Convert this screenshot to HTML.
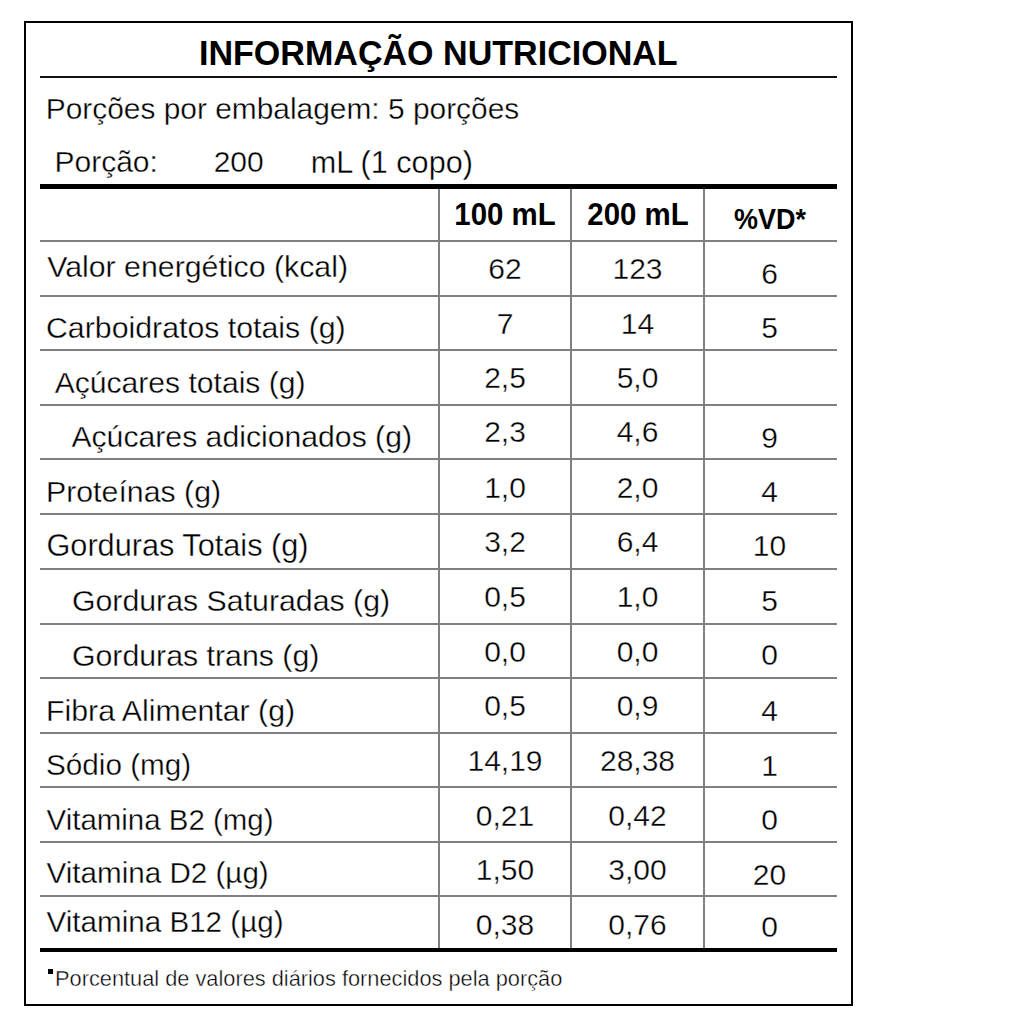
<!DOCTYPE html>
<html><head><meta charset="utf-8"><style>
html,body{margin:0;padding:0;background:#fff;width:1024px;height:1024px;overflow:hidden}
.t{position:absolute;font-family:"Liberation Sans",sans-serif;line-height:1;white-space:pre;color:#000;-webkit-text-stroke:0.35px #fff}
.c{text-align:center}
.b{-webkit-text-stroke:0}
.r{position:absolute;box-sizing:content-box}
</style></head><body>
<div class="r" style="left:24px;top:21px;width:825px;height:981px;border:2px solid #000"></div>
<div class="r" style="left:40px;top:76px;width:797px;height:2px;background:#111"></div>
<div class="r" style="left:40px;top:184px;width:797px;height:5px;background:#000"></div>
<div class="r" style="left:40px;top:948px;width:797px;height:4px;background:#000"></div>
<div class="r" style="left:437.5px;top:189px;width:2.0px;height:759px;background:#808080"></div>
<div class="r" style="left:570px;top:189px;width:2px;height:759px;background:#808080"></div>
<div class="r" style="left:703px;top:189px;width:2px;height:759px;background:#808080"></div>
<div class="r" style="left:40px;top:240px;width:797px;height:2px;background:#808080"></div>
<div class="r" style="left:40px;top:294.7px;width:797px;height:2.0px;background:#808080"></div>
<div class="r" style="left:40px;top:349.3px;width:797px;height:2.0px;background:#808080"></div>
<div class="r" style="left:40px;top:404px;width:797px;height:2px;background:#808080"></div>
<div class="r" style="left:40px;top:458.4px;width:797px;height:2.0px;background:#808080"></div>
<div class="r" style="left:40px;top:513.1px;width:797px;height:2.0px;background:#808080"></div>
<div class="r" style="left:40px;top:568px;width:797px;height:2px;background:#808080"></div>
<div class="r" style="left:40px;top:622.8px;width:797px;height:2.0px;background:#808080"></div>
<div class="r" style="left:40px;top:677.2px;width:797px;height:2.0px;background:#808080"></div>
<div class="r" style="left:40px;top:732px;width:797px;height:2px;background:#808080"></div>
<div class="r" style="left:40px;top:786.4px;width:797px;height:2.0px;background:#808080"></div>
<div class="r" style="left:40px;top:841.2px;width:797px;height:2.0px;background:#808080"></div>
<div class="r" style="left:40px;top:895.4px;width:797px;height:2.0px;background:#808080"></div>
<div class="t b" style="left:199.21px;top:35.70px;font-size:34.6px;font-weight:bold;transform-origin:0 0;transform:scaleX(0.985)">INFORMAÇÃO NUTRICIONAL</div>
<div class="t" style="left:45.71px;top:94.38px;font-size:29.9px;font-weight:normal;">Porções por embalagem: 5 porções</div>
<div class="t" style="left:54.50px;top:147.10px;font-size:30.0px;font-weight:normal;">Porção:</div>
<div class="t" style="left:213.70px;top:147.10px;font-size:30.0px;font-weight:normal;">200</div>
<div class="t" style="left:310.76px;top:146.59px;font-size:30.6px;font-weight:normal;">mL (1 copo)</div>
<div class="t c b" style="left:355.00px;top:199.18px;width:300px;font-size:30.5px;font-weight:bold;transform:scaleX(0.965)">100 mL</div>
<div class="t c b" style="left:487.50px;top:199.18px;width:300px;font-size:30.5px;font-weight:bold;transform:scaleX(0.965)">200 mL</div>
<div class="t c b" style="left:619.50px;top:204.37px;width:300px;font-size:29.8px;font-weight:bold;transform:scaleX(0.905)">%VD*</div>
<div class="t" style="left:47.20px;top:251.54px;font-size:30.3px;font-weight:normal;">Valor energético (kcal)</div>
<div class="t c" style="left:355.00px;top:254.20px;width:300px;font-size:30.0px;font-weight:normal;">62</div>
<div class="t c" style="left:487.50px;top:254.20px;width:300px;font-size:30.0px;font-weight:normal;">123</div>
<div class="t c" style="left:619.50px;top:258.60px;width:300px;font-size:30.0px;font-weight:normal;">6</div>
<div class="t" style="left:45.98px;top:312.74px;font-size:30.3px;font-weight:normal;">Carboidratos totais (g)</div>
<div class="t c" style="left:355.00px;top:308.60px;width:300px;font-size:30.0px;font-weight:normal;">7</div>
<div class="t c" style="left:487.50px;top:308.60px;width:300px;font-size:30.0px;font-weight:normal;">14</div>
<div class="t c" style="left:619.50px;top:313.40px;width:300px;font-size:30.0px;font-weight:normal;">5</div>
<div class="t" style="left:54.70px;top:367.91px;font-size:30.1px;font-weight:normal;">Açúcares totais (g)</div>
<div class="t c" style="left:355.00px;top:363.00px;width:300px;font-size:30.0px;font-weight:normal;">2,5</div>
<div class="t c" style="left:487.50px;top:363.00px;width:300px;font-size:30.0px;font-weight:normal;">5,0</div>
<div class="t" style="left:71.40px;top:422.13px;font-size:30.2px;font-weight:normal;">Açúcares adicionados (g)</div>
<div class="t c" style="left:355.00px;top:417.20px;width:300px;font-size:30.0px;font-weight:normal;">2,3</div>
<div class="t c" style="left:487.50px;top:417.20px;width:300px;font-size:30.0px;font-weight:normal;">4,6</div>
<div class="t c" style="left:619.50px;top:422.60px;width:300px;font-size:30.0px;font-weight:normal;">9</div>
<div class="t" style="left:45.98px;top:476.64px;font-size:30.3px;font-weight:normal;">Proteínas (g)</div>
<div class="t c" style="left:355.00px;top:472.90px;width:300px;font-size:30.0px;font-weight:normal;">1,0</div>
<div class="t c" style="left:487.50px;top:472.90px;width:300px;font-size:30.0px;font-weight:normal;">2,0</div>
<div class="t c" style="left:619.50px;top:477.10px;width:300px;font-size:30.0px;font-weight:normal;">4</div>
<div class="t" style="left:46.47px;top:531.01px;font-size:30.7px;font-weight:normal;">Gorduras Totais (g)</div>
<div class="t c" style="left:355.00px;top:527.40px;width:300px;font-size:30.0px;font-weight:normal;">3,2</div>
<div class="t c" style="left:487.50px;top:527.40px;width:300px;font-size:30.0px;font-weight:normal;">6,4</div>
<div class="t c" style="left:619.50px;top:531.30px;width:300px;font-size:30.0px;font-weight:normal;">10</div>
<div class="t" style="left:71.89px;top:585.94px;font-size:30.3px;font-weight:normal;">Gorduras Saturadas (g)</div>
<div class="t c" style="left:355.00px;top:581.60px;width:300px;font-size:30.0px;font-weight:normal;">0,5</div>
<div class="t c" style="left:487.50px;top:581.60px;width:300px;font-size:30.0px;font-weight:normal;">1,0</div>
<div class="t c" style="left:619.50px;top:586.10px;width:300px;font-size:30.0px;font-weight:normal;">5</div>
<div class="t" style="left:71.89px;top:640.59px;font-size:30.3px;font-weight:normal;">Gorduras trans (g)</div>
<div class="t c" style="left:355.00px;top:636.70px;width:300px;font-size:30.0px;font-weight:normal;">0,0</div>
<div class="t c" style="left:487.50px;top:636.70px;width:300px;font-size:30.0px;font-weight:normal;">0,0</div>
<div class="t c" style="left:619.50px;top:640.40px;width:300px;font-size:30.0px;font-weight:normal;">0</div>
<div class="t" style="left:45.98px;top:695.59px;font-size:30.3px;font-weight:normal;">Fibra Alimentar (g)</div>
<div class="t c" style="left:355.00px;top:691.20px;width:300px;font-size:30.0px;font-weight:normal;">0,5</div>
<div class="t c" style="left:487.50px;top:691.20px;width:300px;font-size:30.0px;font-weight:normal;">0,9</div>
<div class="t c" style="left:619.50px;top:696.20px;width:300px;font-size:30.0px;font-weight:normal;">4</div>
<div class="t" style="left:46.02px;top:750.35px;font-size:29.7px;font-weight:normal;">Sódio (mg)</div>
<div class="t c" style="left:355.00px;top:746.20px;width:300px;font-size:30.0px;font-weight:normal;">14,19</div>
<div class="t c" style="left:487.50px;top:746.20px;width:300px;font-size:30.0px;font-weight:normal;">28,38</div>
<div class="t c" style="left:619.50px;top:750.70px;width:300px;font-size:30.0px;font-weight:normal;">1</div>
<div class="t" style="left:46.61px;top:805.36px;font-size:29.45px;font-weight:normal;">Vitamina B2 (mg)</div>
<div class="t c" style="left:355.00px;top:800.60px;width:300px;font-size:30.0px;font-weight:normal;">0,21</div>
<div class="t c" style="left:487.50px;top:800.60px;width:300px;font-size:30.0px;font-weight:normal;">0,42</div>
<div class="t c" style="left:619.50px;top:805.00px;width:300px;font-size:30.0px;font-weight:normal;">0</div>
<div class="t" style="left:46.60px;top:858.04px;font-size:29.6px;font-weight:normal;">Vitamina D2 (µg)</div>
<div class="t c" style="left:355.00px;top:855.30px;width:300px;font-size:30.0px;font-weight:normal;">1,50</div>
<div class="t c" style="left:487.50px;top:855.30px;width:300px;font-size:30.0px;font-weight:normal;">3,00</div>
<div class="t c" style="left:619.50px;top:860.00px;width:300px;font-size:30.0px;font-weight:normal;">20</div>
<div class="t" style="left:46.60px;top:906.54px;font-size:29.6px;font-weight:normal;">Vitamina B12 (µg)</div>
<div class="t c" style="left:355.00px;top:909.80px;width:300px;font-size:30.0px;font-weight:normal;">0,38</div>
<div class="t c" style="left:487.50px;top:909.80px;width:300px;font-size:30.0px;font-weight:normal;">0,76</div>
<div class="t c" style="left:619.50px;top:911.60px;width:300px;font-size:30.0px;font-weight:normal;">0</div>
<div class="r" style="left:48.3px;top:969.3px;width:4.900000000000006px;height:4.400000000000091px;background:#000"></div>
<div class="t b" style="left:54.84px;top:968.17px;font-size:22.0px;transform-origin:0 0;transform:scaleX(0.99);-webkit-text-stroke:0.4px #fff">Porcentual de valores diários fornecidos pela porção</div>
</body></html>
